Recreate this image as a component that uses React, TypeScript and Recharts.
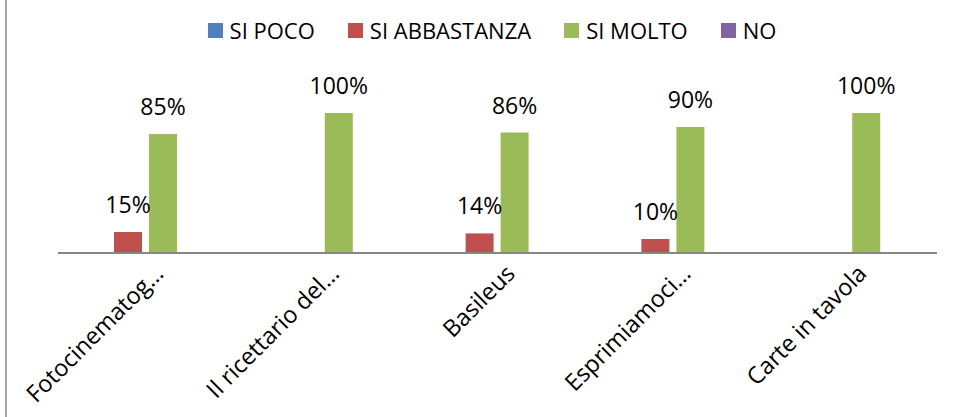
import React from "react";
import { BarChart, Bar, XAxis, YAxis, LabelList } from "recharts";

const categories = ["Fotocinematog…", "Il ricettario del…", "Basileus", "Esprimiamoci…", "Carte in tavola"];
const siPoco = [0, 0, 0, 0, 0];
const siAbbastanza = [0.15, 0, 0.14, 0.1, 0];
const siMolto = [0.85, 1, 0.86, 0.9, 1];
const no = [0, 0, 0, 0, 0];

const seriesDefs = [
  { key: "siPoco", name: "SI POCO", color: "#4F81BD" },
  { key: "siAbbastanza", name: "SI ABBASTANZA", color: "#C0504D" },
  { key: "siMolto", name: "SI MOLTO", color: "#9BBB59" },
  { key: "no", name: "NO", color: "#8064A2" },
];

const data = categories.map((name, i) => ({
  name,
  siPoco: siPoco[i],
  siAbbastanza: siAbbastanza[i],
  siMolto: siMolto[i],
  no: no[i],
}));

const FONT = "'Open Sans', sans-serif";

function ValueLabel(props: any) {
  const { x, y, width, value } = props;
  if (!value) return null;
  return (
    <text x={x + width / 2} y={y - 19} textAnchor="middle" fontSize={23} fontFamily={FONT} fill="#000">
      {Math.round(value * 100) + "%"}
    </text>
  );
}

function AngledTick(props: any) {
  const { x, y, payload } = props;
  const ax = x + 19;
  const ay = y + 22;
  return (
    <text x={ax} y={ay} textAnchor="end" fontSize={23.5} fontFamily={FONT} fill="#000" transform={`rotate(-45, ${ax}, ${ay})`}>
      {payload.value}
    </text>
  );
}

function LegendBox() {
  return (
    <div style={{ position: "absolute", left: 30, top: 15, width: 924, display: "flex", justifyContent: "center", alignItems: "center", fontFamily: FONT, fontSize: 22, color: "#000" }}>
      {seriesDefs.map((s, i) => (
        <div key={s.key} style={{ display: "flex", alignItems: "center", marginRight: i < seriesDefs.length - 1 ? 33 : 0 }}>
          <span style={{ display: "inline-block", width: 15, height: 15, background: s.color, marginRight: 7 }} />
          <span>{s.name}</span>
        </div>
      ))}
    </div>
  );
}

export default function App() {
  return (
    <div style={{ position: "relative", width: 954, height: 417, background: "#fff" }}>
      <style>{`body{margin:0}`}</style>
      <div style={{ position: "absolute", left: 5, top: 0, width: 2, height: 417, background: "#a6a6a6" }} />
      <LegendBox />
      <BarChart width={954} height={417} data={data} margin={{ top: 85, right: 17, bottom: 0, left: 58 }} barSize={28} barGap={7}>
        <XAxis
          dataKey="name"
          height={164}
          interval={0}
          tickLine={false}
          tickSize={0}
          tickMargin={0}
          axisLine={{ stroke: "#868686", strokeWidth: 2 }}
          tick={<AngledTick />}
        />
        <YAxis hide domain={[0, 1.2]} />
        {seriesDefs.map((s) => (
          <Bar key={s.key} dataKey={s.key} name={s.name} fill={s.color} isAnimationActive={false}>
            <LabelList dataKey={s.key} content={<ValueLabel />} />
          </Bar>
        ))}
      </BarChart>
    </div>
  );
}
